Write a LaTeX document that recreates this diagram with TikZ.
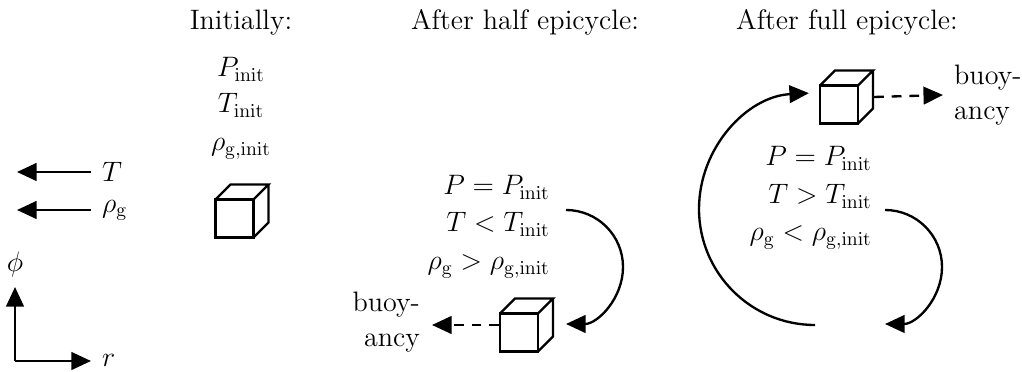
\documentclass[tikz,border=0pt]{standalone}
\usepackage{amsmath}
\usetikzlibrary{positioning,arrows.meta}

\begin{document}
\begin{tikzpicture}[
        x=0.018cm, y=0.018cm,
        font=\Large,
        line width=1.2pt,
        arr/.style={-{Triangle[length=10pt,width=9pt]}},
        dasharr/.style={arr, dash pattern=on 5pt off 4pt},
        heading/.style={anchor=base},
        state/.style={anchor=base east, inner sep=0pt},
        init/.style={anchor=base, inner sep=0pt},
        cubebox/.style={minimum size=0.954cm, inner sep=0pt},
        cube/.pic={
            \draw (-26.5,-26.5) rectangle (11.5,11.5);
            \draw (-26.5,11.5) -- (-11.5,26.5) -- (26.5,26.5) -- (11.5,11.5)
                  (26.5,26.5) -- (26.5,-11.5) -- (11.5,-26.5);
        }
    ]
        \useasboundingbox (0,0) rectangle (1022,372);

        % headings
        \node[heading] (hinit) at (241,342) {Initially:};
        \node[heading] (hhalf) at (525,342) {After half epicycle:};
        \node[heading] (hfull) at (847,342) {After full epicycle:};

        % gradients and axes
        \node[anchor=west, inner sep=0pt] (lt) at (101,200) {$T$};
        \node[anchor=west, inner sep=0pt] (lrho) at (101,162) {$\rho_{\mathrm{g}}$};
        \coordinate (ltend) at (17,200);
        \coordinate (lrhoend) at (17,162);
        \draw[arr] (91,200) coordinate (ltstart) -- (ltend);
        \draw[arr] (91,162) coordinate (lrhostart) -- (lrhoend);
        \node (phi) at (15,108) {$\phi$};
        \node[anchor=west, inner sep=0pt] (r) at (101,12) {$r$};
        \coordinate (orig) at (15,11);
        \coordinate (phiend) at (15,85);
        \coordinate (rend) at (91,11);
        \draw[arr] (orig) -- (phiend);
        \draw[arr] (orig) -- (rend);

        % initial state
        \node[init] (pinit) at (241,295) {$P_{\mathrm{init}}$};
        \node[init] (tinit) at (241,259) {$T_{\mathrm{init}}$};
        \node[init] (rinit) at (241,221) {$\rho_{\mathrm{g,init}}$};
        \node[cubebox] (cinit) at (242,161) {};
        \pic at (cinit) {cube};

        % after half epicycle
        \node[state] (phalf) at (551,177) {$P = P_{\mathrm{init}}$};
        \node[state] (thalf) at (551,140) {$T < T_{\mathrm{init}}$};
        \node[state] (rhalf) at (551,102) {$\rho_{\mathrm{g}} > \rho_{\mathrm{g,init}}$};
        \node[cubebox] (chalf) at (526.5,47) {};
        \pic at (chalf) {cube};
        \node[anchor=east, align=right, inner sep=0pt] (bhalf) at (421,50) {buoy-\\ancy};
        \coordinate (bhalfend) at (432,47);
        \coordinate (ahalf) at (566,162);
        \draw[arr] (ahalf) arc[start angle=90, end angle=-90, radius=57];
        \draw[dasharr] (chalf.west) -- (bhalfend);

        % after full epicycle
        \node[state] (pfull) at (873,206) {$P = P_{\mathrm{init}}$};
        \node[state] (tfull) at (873,168) {$T > T_{\mathrm{init}}$};
        \node[state] (rfull) at (873,131) {$\rho_{\mathrm{g}} < \rho_{\mathrm{g,init}}$};
        \node[cubebox] (cfull) at (846.5,275) {};
        \pic at (cfull) {cube};
        \node[anchor=west, align=left, inner sep=0pt] (bfull) at (953,277) {buoy-\\ancy};
        \coordinate (bfullend) at (943,277);
        \coordinate (afull) at (885,162);
        \coordinate (bigarc) at (815,47);
        \draw[arr] (afull) arc[start angle=90, end angle=-90, radius=57];
        \draw[arr] (bigarc) arc[start angle=270, end angle=93, radius=116];
        \draw[dasharr] (cfull.east) -- (bfullend);
    \end{tikzpicture}
\end{document}
